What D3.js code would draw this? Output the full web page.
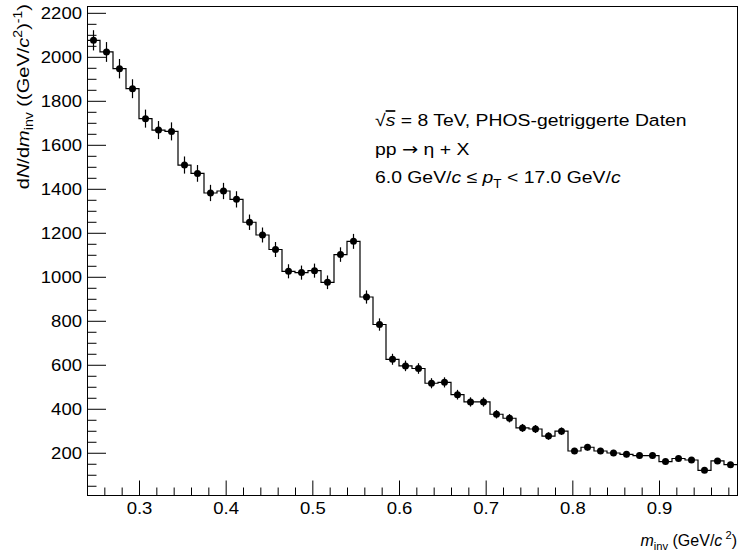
<!DOCTYPE html>
<html>
<head>
<meta charset="utf-8">
<script src="https://cdn.jsdelivr.net/npm/d3@7"></script>
<style>
  body { margin: 0; background: #fff; }
  text { font-family: "Liberation Sans", Arial, Helvetica, sans-serif; fill: #000; }
</style>
</head>
<body>
<svg id="chart" width="740" height="557"></svg>
<script>
// invariant mass bins (GeV/c^2), bin width 0.015
const binCenters = [
  0.2475, 0.2625, 0.2775, 0.2925, 0.3075, 0.3225, 0.3375, 0.3525, 0.3675, 0.3825,
  0.3975, 0.4125, 0.4275, 0.4425, 0.4575, 0.4725, 0.4875, 0.5025, 0.5175, 0.5325,
  0.5475, 0.5625, 0.5775, 0.5925, 0.6075, 0.6225, 0.6375, 0.6525, 0.6675, 0.6825,
  0.6975, 0.7125, 0.7275, 0.7425, 0.7575, 0.7725, 0.7875, 0.8025, 0.8175, 0.8325,
  0.8475, 0.8625, 0.8775, 0.8925, 0.9075, 0.9225, 0.9375, 0.9525, 0.9675, 0.9825
];
const binWidth = 0.015;

// dN/dm_inv per bin
const counts = [
  2075, 2022, 1946, 1855, 1719, 1667, 1661, 1508, 1470, 1381,
  1390, 1352, 1248, 1190, 1124, 1025, 1019, 1028, 975, 1101,
  1161, 908, 783, 625, 595, 583, 516, 520, 464, 431,
  431, 375, 357, 313, 308, 276, 298, 208, 225, 208,
  199, 193, 187, 187, 160, 174, 167, 120, 163, 146
];
// statistical errors
const errors = [
  46, 45, 44, 43, 41, 41, 41, 39, 38, 37,
  37, 37, 35, 34, 34, 32, 32, 32, 31, 33,
  34, 30, 28, 25, 24, 24, 23, 23, 22, 21,
  21, 19, 19, 18, 18, 17, 17, 14, 15, 14,
  14, 14, 14, 14, 13, 13, 13, 11, 13, 12
];

const xTicks = [0.3, 0.4, 0.5, 0.6, 0.7, 0.8, 0.9];
const yTicks = [200, 400, 600, 800, 1000, 1200, 1400, 1600, 1800, 2000, 2200];

const svg = d3.select("#chart");
const frame = {left: 87, right: 737, top: 6, bottom: 495};

const x = d3.scaleLinear().domain([0.24, 0.99]).range([frame.left, frame.right]);
const y = d3.scaleLinear().domain([8, 2231]).range([frame.bottom, frame.top]);

const wide = 1.09; // reference glyphs are a bit wider than Liberation Sans

/* helper: write a text made of styled pieces */
function rich(sel, parts) {
  parts.forEach(p => {
    const t = sel.append("tspan").text(p.t);
    if (p.i) t.attr("font-style", "italic");
    if (p.sub) t.attr("dy", p.sub).attr("font-size", p.fs || "0.7em");
    if (p.ov) t.style("text-decoration", "overline");
    if (p.f) t.style("font-family", p.f);
  });
  return sel;
}

// minor ticks
const yMinor = d3.range(50, 2231, 50).filter(v => v % 200 !== 0);
const xMinor = d3.range(0.26, 0.99, 0.02).filter(v => Math.abs(v * 10 - Math.round(v * 10)) > 0.01);

svg.append("g")
  .attr("transform", `translate(${frame.left},0)`)
  .call(d3.axisLeft(y).tickValues(yMinor).tickSize(-9.5).tickFormat(""))
  .call(g => g.select(".domain").remove());

svg.append("g")
  .attr("transform", `translate(${frame.left},0)`)
  .call(d3.axisLeft(y).tickValues(yTicks).tickSize(-19).tickPadding(5).tickFormat(d3.format("d")))
  .call(g => g.select(".domain").remove())
  .call(g => g.selectAll("text").attr("font-size", 17).attr("font-family", null)
    .attr("x", -5 / wide).attr("transform", `scale(${wide},1)`));

svg.append("g")
  .attr("transform", `translate(0,${frame.bottom})`)
  .call(d3.axisBottom(x).tickValues(xMinor).tickSize(-7.5).tickFormat(""))
  .call(g => g.select(".domain").remove());

svg.append("g")
  .attr("transform", `translate(0,${frame.bottom})`)
  .call(d3.axisBottom(x).tickValues(xTicks).tickSize(-14.5).tickPadding(7).tickFormat(d3.format(".1f")))
  .call(g => g.select(".domain").remove())
  .call(g => g.selectAll("text").attr("font-size", 17).attr("font-family", null)
    .attr("transform", `scale(${wide},1)`));

svg.selectAll(".tick line").attr("stroke", "#000");

// frame
svg.append("rect")
  .attr("x", frame.left + 0.5).attr("y", frame.top + 0.5)
  .attr("width", frame.right - frame.left).attr("height", frame.bottom - frame.top)
  .attr("fill", "none").attr("stroke", "#000");

// histogram outline
const stepPts = binCenters.map((c, i) => [c - binWidth / 2, counts[i]]);
stepPts.push([binCenters[binCenters.length - 1] + binWidth / 2, counts[counts.length - 1]]);
const stepLine = d3.line().x(d => x(d[0])).y(d => y(d[1])).curve(d3.curveStepAfter);
svg.append("path")
  .attr("d", stepLine(stepPts))
  .attr("fill", "none").attr("stroke", "#000").attr("stroke-width", 1.2);

// error bars + markers
const pts = svg.append("g").selectAll("g").data(binCenters).enter().append("g");
pts.append("line")
  .attr("x1", d => x(d)).attr("x2", d => x(d))
  .attr("y1", (d, i) => y(counts[i] - errors[i]))
  .attr("y2", (d, i) => y(counts[i] + errors[i]))
  .attr("stroke", "#000").attr("stroke-width", 1.2);
pts.append("circle")
  .attr("cx", d => x(d)).attr("cy", (d, i) => y(counts[i]))
  .attr("r", 3.5).attr("fill", "#000");

// legend text
const lx = 375, legScale = 1.14;
const leg = (yy) => svg.append("text")
  .attr("transform", `translate(${lx},${yy}) scale(${legScale},1)`).attr("font-size", 17);
rich(leg(126), [
  {t: "√"}, {t: "s", i: 1, ov: 1}, {t: " = 8 TeV, PHOS-getriggerte Daten"}
]);
rich(leg(155), [
  {t: "pp "}, {t: "→", f: "DejaVu Sans"}, {t: " η + X"}
]);
rich(leg(183), [
  {t: "6.0 GeV/"}, {t: "c", i: 1}, {t: " ≤ "}, {t: "p", i: 1},
  {t: "T", sub: 5, fs: "0.7em"}, {t: " < 17.0 GeV/", sub: -5, fs: "1em"}, {t: "c", i: 1}
]);

// axis titles
rich(svg.append("text")
  .attr("transform", "translate(737,546)")
  .attr("text-anchor", "end").attr("font-size", 16), [
  {t: "m", i: 1}, {t: "inv", sub: 4, fs: "0.7em"}, {t: " (GeV/", sub: -4, fs: "1em"},
  {t: "c", i: 1}, {t: " 2", sub: -7, fs: "0.7em"}, {t: ")", sub: 7, fs: "1em"}
]);

rich(svg.append("text")
  .attr("transform", "translate(29,4) rotate(-90) scale(1.18,1)")
  .attr("text-anchor", "end").attr("font-size", 17), [
  {t: "d"}, {t: "N", i: 1}, {t: "/d"}, {t: "m", i: 1},
  {t: "inv", sub: 4, fs: "0.7em"}, {t: " ((GeV/", sub: -4, fs: "1em"}, {t: "c", i: 1},
  {t: "2", sub: -7, fs: "0.7em"}, {t: ")", sub: 7, fs: "1em"},
  {t: "-1", sub: -7, fs: "0.7em"}, {t: ")", sub: 7, fs: "1em"}
]);
</script>
</body>
</html>
